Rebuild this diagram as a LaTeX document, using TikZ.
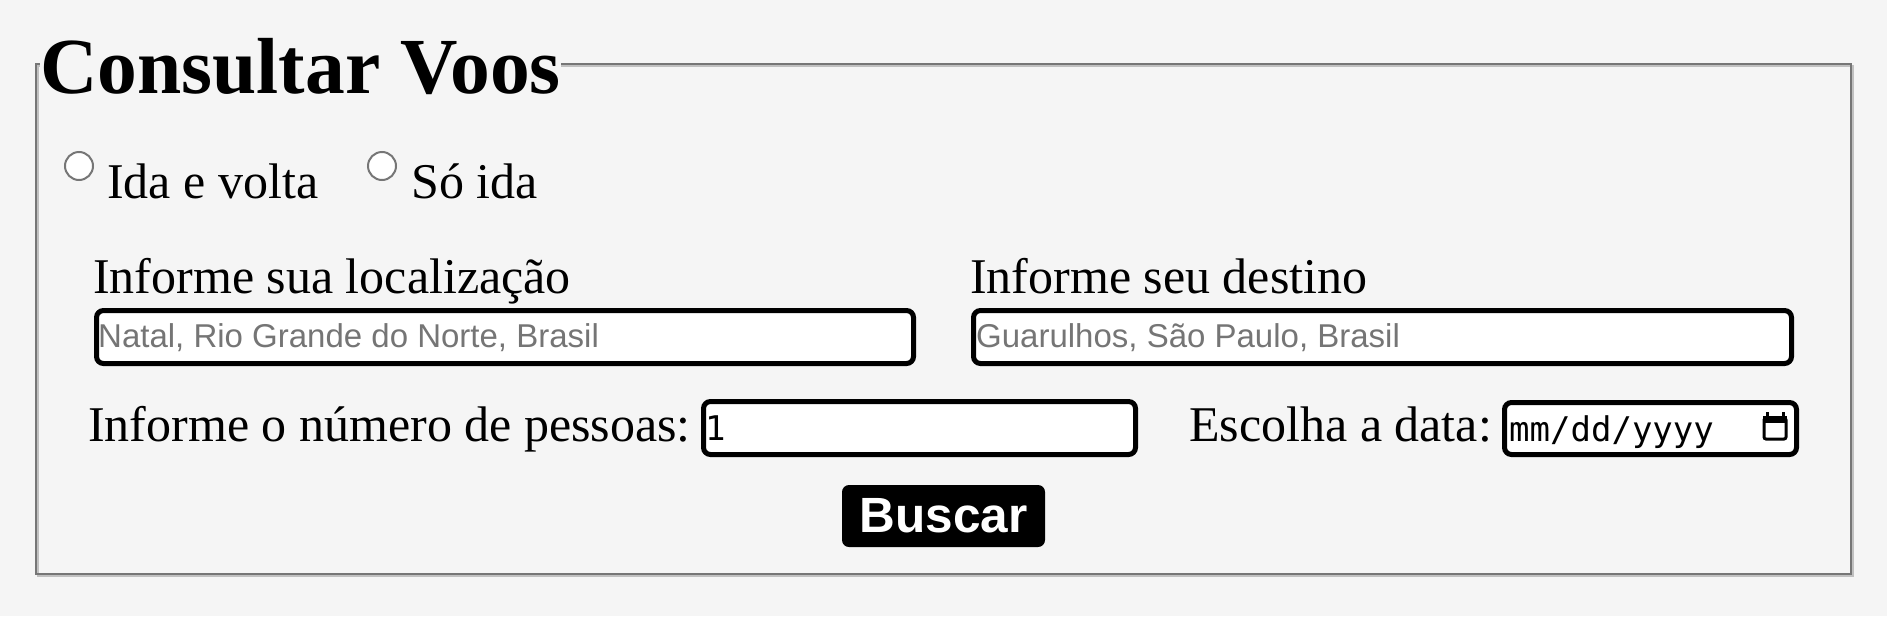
\documentclass[tikz,border=0pt]{standalone}
\usepackage{fontspec}
\setmainfont{Liberation Serif}
\newfontfamily\arialfont{Liberation Sans}
\newfontfamily\dejamono{DejaVu Sans Mono}

\definecolor{pagebg}{HTML}{F5F5F5}
\definecolor{rimdark}{HTML}{767676}
\definecolor{rimlight}{HTML}{C0C0C0}
\definecolor{hintgray}{HTML}{757575}

\tikzset{
  fieldlabel/.style={anchor=base west, inner sep=0pt, font=\fontsize{50}{60}\selectfont},
  entrybox/.style={draw=black, line width=5pt, fill=white, rounded corners=7pt, inner sep=0pt},
  hint/.style={anchor=base west, inner sep=0pt, text=hintgray, font=\arialfont\fontsize{33}{40}\selectfont},
  monotext/.style={anchor=base west, inner sep=0pt, font=\dejamono\fontsize{34}{40}\selectfont},
  radiobtn/.style={circle, draw=rimdark, fill=white, line width=2pt, minimum size=28pt, inner sep=0pt}
}

\begin{document}
\begin{tikzpicture}[x=1pt, y=-1pt]
  \fill [pagebg] (0,0) rectangle (1887,616);
  \useasboundingbox (0,0) rectangle (1887,616);
  % fieldset border
  \draw [rimlight, line width=2pt] (38,66) rectangle (1853,576);
  \draw [rimdark, line width=2.5pt] (36,64) rectangle (1851,574);
  \node [anchor=base west, inner sep=0pt, fill=pagebg, font=\bfseries\fontsize{79.5}{95}\selectfont] (titulo) at (40,93) {Consultar Voos};

  % trip type
  \node [radiobtn] (idavolta) at (79,166) {};
  \node [fieldlabel] (tidavolta) at (107,198) {Ida e volta};
  \node [radiobtn] (soida) at (382,166) {};
  \node [fieldlabel] (tsoida) at (411,198) {Só ida};

  % origin and destination
  \node [fieldlabel] (torigem) at (93,293) {Informe sua localização};
  \node [entrybox, minimum width=817pt, minimum height=53pt] (origem) at (505,337) {};
  \node [hint] (horigem) at (98,347) {Natal, Rio Grande do Norte, Brasil};
  \node [fieldlabel] (tdestino) at (970,293) {Informe seu destino};
  \node [entrybox, minimum width=818pt, minimum height=53pt] (destino) at (1382.5,337) {};
  \node [hint] (hdestino) at (976,347) {Guarulhos, São Paulo, Brasil};

  % people and date
  \node [fieldlabel] (tpessoas) at (88,441) {Informe o número de pessoas:};
  \node [entrybox, minimum width=432pt, minimum height=53pt] (pessoas) at (919.5,428) {};
  \node [monotext] (npessoas) at (705,440) {1};
  \node [fieldlabel] (tdata) at (1189,441) {Escolha a data:};
  \node [entrybox, minimum width=292pt, minimum height=52pt] (data) at (1650.5,428.5) {};
  \node [monotext] (ndata) at (1509,441) {mm/dd/yyyy};
  \draw [line width=3pt, rounded corners=2pt] (1764,418) rectangle (1786,439);
  \fill (1763,416) rectangle (1787,423);
  \draw [line width=3pt] (1767,412) -- (1767,418) (1783,412) -- (1783,418);

  % submit
  \node [fill=black, rounded corners=7pt, minimum width=203pt, minimum height=62pt, inner sep=0pt,
         text=white, font=\arialfont\bfseries\fontsize{49.5}{58}\selectfont] (buscar) at (943.5,516) {Buscar};
\end{tikzpicture}
\end{document}
